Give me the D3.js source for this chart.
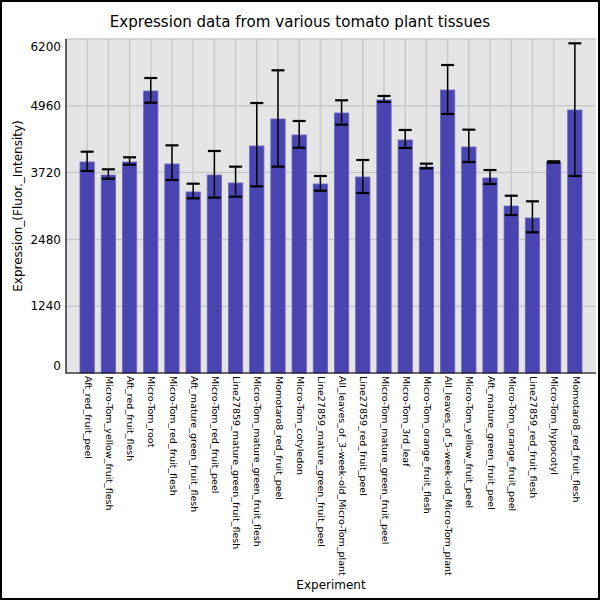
<!DOCTYPE html>
<html>
<head>
<meta charset="utf-8">
<script src="https://cdn.jsdelivr.net/npm/d3@7"></script>
<style>
  html, body { margin: 0; padding: 0; background: #fff; }
  svg { display: block; font-family: "DejaVu Sans", sans-serif; }
</style>
</head>
<body>
<svg id="chart" width="600" height="600"></svg>
<script>
const categories = [
  "Aft_red_fruit_peel",
  "Micro-Tom_yellow_fruit_flesh",
  "Aft_red_fruit_flesh",
  "Micro-Tom_root",
  "Micro-Tom_red_fruit_flesh",
  "Aft_mature_green_fruit_flesh",
  "Micro-Tom_red_fruit_peel",
  "Line27859_mature_green_fruit_flesh",
  "Micro-Tom_mature_green_fruit_flesh",
  "Momotaro8_red_fruit_peel",
  "Micro-Tom_cotyledon",
  "Line27859_mature_green_fruit_peel",
  "All_leaves_of_3-week-old_Micro-Tom_plant",
  "Line27859_red_fruit_peel",
  "Micro-Tom_mature_green_fruit_peel",
  "Micro-Tom_3rd_leaf",
  "Micro-Tom_orange_fruit_flesh",
  "All_leaves_of_5-week-old_Micro-Tom_plant",
  "Micro-Tom_yellow_fruit_peel",
  "Aft_mature_green_fruit_peel",
  "Micro-Tom_orange_fruit_peel",
  "Line27859_red_fruit_flesh",
  "Micro-Tom_hypocotyl",
  "Momotaro8_red_fruit_flesh"
];
const means = [3917, 3675, 3917, 5235, 3880, 3360, 3675, 3527, 4214, 4715, 4418, 3508,
               4826, 3638, 5068, 4325, 3824, 5253, 4195, 3620, 3100, 2877, 3917, 4882];
const highs = [4108, 3781, 4004, 5476, 4226, 3514, 4121, 3830, 5012, 5619, 4678, 3657,
               5062, 3954, 5142, 4511, 3886, 5717, 4517, 3768, 3291, 3187, 3930, 6120];
const lows  = [3750, 3607, 3867, 5018, 3583, 3243, 3255, 3273, 3465, 3830, 4182, 3384,
               4610, 3341, 5031, 4177, 3800, 4808, 3917, 3508, 2933, 2612, 3904, 3657];
const yTicks = [0, 1240, 2480, 3720, 4960, 6200];

const chartTitle = "Expression data from various tomato plant tissues";
const xTitle = "Experiment";
const yTitle = "Expression_(Fluor._Intensity)";

const svg = d3.select("#chart");
const pLeft = 66, pRight = 596, pTop = 39, pBottom = 373;

const x = d3.scaleBand().domain(categories).range([pLeft, pRight])
  .paddingInner(0.325).paddingOuter(0.66);
const y = d3.scaleLinear().domain([0, 6200]).range([pBottom, pTop]);

// outer frame
svg.append("rect").attr("x", 1).attr("y", 1).attr("width", 598).attr("height", 598)
  .attr("fill", "none").attr("stroke", "#000").attr("stroke-width", 2);

// plot background
svg.append("rect").attr("x", pLeft).attr("y", pTop)
  .attr("width", pRight - pLeft).attr("height", pBottom - pTop)
  .attr("fill", "#e5e5e5");

// grid
const grid = svg.append("g").attr("stroke", "#c9c9c9").attr("stroke-width", 1.5);
grid.selectAll("line.h").data(yTicks).join("line").attr("class", "h")
  .attr("x1", pLeft).attr("x2", pRight)
  .attr("y1", d => y(d)).attr("y2", d => y(d));
grid.selectAll("line.v").data(categories).join("line").attr("class", "v")
  .attr("x1", d => x(d) + x.bandwidth() / 2).attr("x2", d => x(d) + x.bandwidth() / 2)
  .attr("y1", pTop).attr("y2", pBottom);

// bars
const data = categories.map((c, i) => ({ c, m: means[i], lo: lows[i], hi: highs[i] }));
svg.append("g").selectAll("rect").data(data).join("rect")
  .attr("x", d => x(d.c)).attr("width", x.bandwidth())
  .attr("y", d => y(d.m)).attr("height", d => y(0) - y(d.m))
  .attr("fill", "#4a44b1")
  .attr("stroke", "#6a66c2").attr("stroke-width", 0.8);

// error bars
const eb = svg.append("g").attr("stroke", "#000");
const cx = d => x(d.c) + x.bandwidth() / 2;
eb.selectAll("line.s").data(data).join("line").attr("class", "s")
  .attr("x1", cx).attr("x2", cx)
  .attr("y1", d => y(d.hi)).attr("y2", d => y(d.lo)).attr("stroke-width", 1.5);
eb.selectAll("line.t").data(data).join("line").attr("class", "t")
  .attr("x1", d => cx(d) - 6.5).attr("x2", d => cx(d) + 6.5)
  .attr("y1", d => y(d.hi)).attr("y2", d => y(d.hi)).attr("stroke-width", 2.2);
eb.selectAll("line.b").data(data).join("line").attr("class", "b")
  .attr("x1", d => cx(d) - 6.5).attr("x2", d => cx(d) + 6.5)
  .attr("y1", d => y(d.lo)).attr("y2", d => y(d.lo)).attr("stroke-width", 2.2);

// axes lines
svg.append("line").attr("x1", pLeft).attr("x2", pLeft).attr("y1", pTop).attr("y2", pBottom + 0.5)
  .attr("stroke", "#000").attr("stroke-width", 1.2);
svg.append("line").attr("x1", pLeft).attr("x2", pRight).attr("y1", pBottom).attr("y2", pBottom)
  .attr("stroke", "#000").attr("stroke-width", 1.2);

// y tick labels
svg.append("g").selectAll("text").data(yTicks).join("text")
  .attr("x", 61)
  .attr("y", (d, i) => {
    let yy = y(d);
    if (i === 0) yy -= 7;
    if (i === yTicks.length - 1) yy += 8;
    return yy;
  })
  .attr("dy", "0.35em")
  .attr("text-anchor", "end").attr("font-size", 12).attr("fill", "#000")
  .text(d => d);

// x tick labels
svg.append("g").selectAll("text").data(categories).join("text")
  .attr("transform", d => `translate(${x(d) + x.bandwidth() / 2 + 1},${pBottom + 3}) rotate(90)`)
  .attr("dy", "0.35em")
  .attr("text-anchor", "start").attr("font-size", 9.5).attr("fill", "#000")
  .text(d => d);

// titles
svg.append("text").attr("x", 300).attr("y", 27).attr("text-anchor", "middle")
  .attr("font-size", 15.1).attr("fill", "#000").text(chartTitle);
svg.append("text").attr("x", (pLeft + pRight) / 2).attr("y", 589).attr("text-anchor", "middle")
  .attr("font-size", 12).attr("fill", "#000").text(xTitle);
svg.append("text").attr("transform", `translate(22,${(pTop + pBottom) / 2}) rotate(-90)`)
  .attr("text-anchor", "middle").attr("font-size", 12).attr("fill", "#000").text(yTitle);
</script>
</body>
</html>
